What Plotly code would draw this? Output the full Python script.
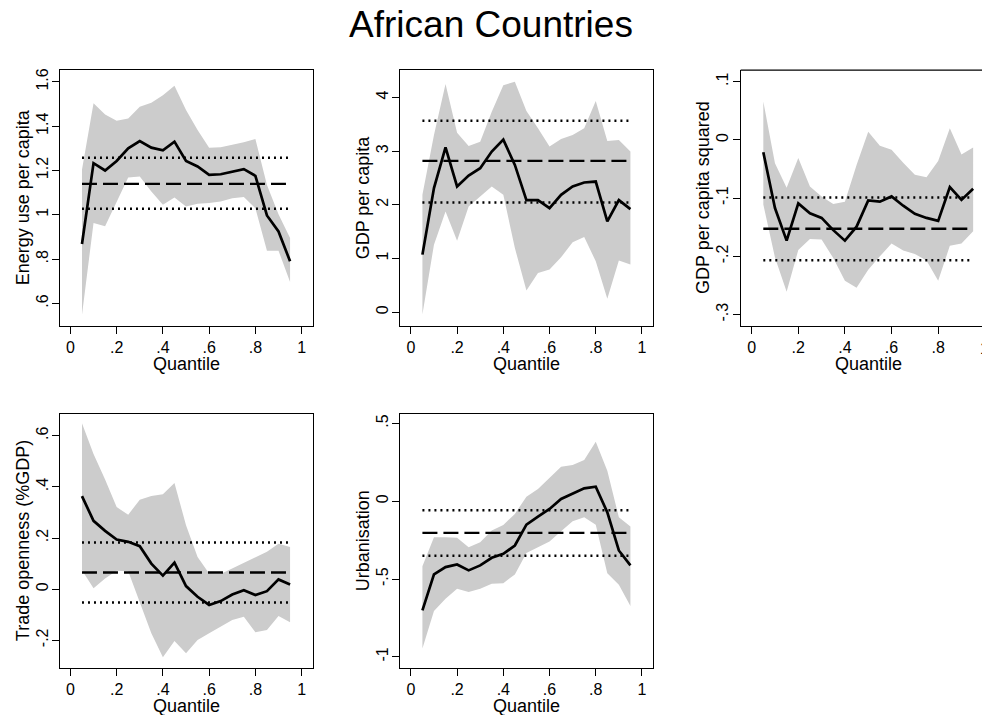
import plotly.graph_objects as go

# ---------------- data ----------------
quantiles = [0.05, 0.10, 0.15, 0.20, 0.25, 0.30, 0.35, 0.40, 0.45, 0.50,
             0.55, 0.60, 0.65, 0.70, 0.75, 0.80, 0.85, 0.90, 0.95]

energy_coef = [0.868, 1.233, 1.200, 1.243, 1.300, 1.333, 1.303, 1.291, 1.330, 1.243,
               1.218, 1.180, 1.183, 1.195, 1.206, 1.176, 0.997, 0.925, 0.790]
energy_hi = [1.203, 1.503, 1.453, 1.425, 1.435, 1.488, 1.506, 1.540, 1.582, 1.473,
             1.383, 1.303, 1.305, 1.315, 1.327, 1.342, 1.135, 1.003, 0.895]
energy_lo = [0.548, 0.963, 0.948, 1.060, 1.168, 1.173, 1.105, 1.045, 1.078, 1.038,
             1.050, 1.053, 1.060, 1.075, 1.080, 1.030, 0.838, 0.838, 0.697]
energy_ols = [1.140, 1.027, 1.258]  # coef, lower, upper

gdp_coef = [1.071, 2.310, 3.071, 2.341, 2.545, 2.681, 2.991, 3.214, 2.743, 2.087,
            2.087, 1.938, 2.186, 2.341, 2.415, 2.433, 1.690, 2.087, 1.920]
gdp_hi = [2.186, 3.300, 4.248, 3.344, 3.096, 3.176, 3.734, 4.229, 4.291, 3.746,
          3.424, 3.084, 3.226, 3.300, 3.424, 3.932, 3.189, 3.207, 2.991]
gdp_lo = [-0.043, 1.257, 1.876, 1.331, 1.969, 2.155, 2.341, 2.186, 1.195, 0.402,
          0.731, 0.793, 1.022, 1.300, 1.399, 0.947, 0.248, 0.960, 0.885]
gdp_ols = [2.817, 2.043, 3.567]

gdp2_coef = [-0.021, -0.117, -0.173, -0.109, -0.126, -0.134, -0.155, -0.173, -0.149, -0.104,
             -0.106, -0.097, -0.113, -0.127, -0.134, -0.139, -0.081, -0.103, -0.084]
gdp2_hi = [0.066, -0.040, -0.082, -0.031, -0.080, -0.097, -0.110, -0.106, -0.043, 0.014,
           -0.010, -0.017, -0.039, -0.060, -0.064, -0.036, 0.020, -0.025, -0.013]
gdp2_lo = [-0.111, -0.202, -0.261, -0.189, -0.170, -0.171, -0.203, -0.242, -0.254, -0.223,
           -0.200, -0.178, -0.190, -0.196, -0.207, -0.242, -0.182, -0.178, -0.157]
gdp2_ols = [-0.1526, -0.2069, -0.0989]

trade_coef = [0.364, 0.267, 0.228, 0.194, 0.185, 0.168, 0.100, 0.053, 0.104, 0.012,
              -0.030, -0.062, -0.047, -0.021, -0.004, -0.023, -0.008, 0.038, 0.018]
trade_hi = [0.649, 0.529, 0.429, 0.321, 0.291, 0.350, 0.364, 0.371, 0.415, 0.250,
            0.126, 0.061, 0.059, 0.081, 0.103, 0.126, 0.146, 0.178, 0.165]
trade_lo = [0.074, 0.003, 0.042, 0.072, 0.070, -0.049, -0.173, -0.267, -0.203, -0.251,
            -0.199, -0.173, -0.147, -0.121, -0.108, -0.169, -0.160, -0.105, -0.130]
trade_ols = [0.065, -0.052, 0.182]

urban_coef = [-0.701, -0.470, -0.423, -0.406, -0.444, -0.412, -0.363, -0.338, -0.284, -0.150,
              -0.098, -0.049, 0.015, 0.047, 0.083, 0.094, -0.071, -0.316, -0.412]
urban_hi = [-0.417, -0.231, -0.231, -0.235, -0.295, -0.263, -0.188, -0.152, -0.081, 0.030,
            0.079, 0.150, 0.222, 0.233, 0.265, 0.382, 0.197, -0.103, -0.162]
urban_lo = [-0.947, -0.705, -0.626, -0.562, -0.583, -0.562, -0.530, -0.526, -0.470, -0.333,
            -0.295, -0.259, -0.192, -0.128, -0.103, -0.150, -0.462, -0.536, -0.673]
urban_ols = [-0.203, -0.350, -0.058]

titles = ["Energy use per capita", "GDP per capita", "GDP per capita squared",
          "Trade openness (%GDP)", "Urbanisation"]
x_title = "Quantile"
x_ticks = [0, 0.2, 0.4, 0.6, 0.8, 1]
x_ticklabels = ["0", ".2", ".4", ".6", ".8", "1"]
y_ticks = [[0.6, 0.8, 1.0, 1.2, 1.4, 1.6], [0, 1, 2, 3, 4], [-0.3, -0.2, -0.1, 0, 0.1],
           [-0.2, 0, 0.2, 0.4, 0.6], [-1, -0.5, 0, 0.5]]
y_ticklabels = [[".6", ".8", "1", "1.2", "1.4", "1.6"], ["0", "1", "2", "3", "4"],
                ["-.3", "-.2", "-.1", "0", ".1"], ["-.2", "0", ".2", ".4", ".6"],
                ["-1", "-.5", "0", ".5"]]

series = [
    (energy_coef, energy_lo, energy_hi, energy_ols),
    (gdp_coef, gdp_lo, gdp_hi, gdp_ols),
    (gdp2_coef, gdp2_lo, gdp2_hi, gdp2_ols),
    (trade_coef, trade_lo, trade_hi, trade_ols),
    (urban_coef, urban_lo, urban_hi, urban_ols),
]

# ---------------- layout geometry ----------------
W, H = 982, 715
def px_x(a, b):
    return [a / W, b / W]
def px_y(top, bottom):
    return [1 - bottom / H, 1 - top / H]

# (left, right, top, bottom) of each plot box in pixels
boxes = [
    (60, 312.5, 68.3, 324.5),
    (400, 653.3, 68.3, 324.5),
    (740.7, 982, 68.3, 324.5),
    (60, 312.5, 412.7, 667.7),
    (400, 653.3, 412.7, 667.7),
]
x_ranges = [[-0.045, 1.047], [-0.047, 1.049], [-0.047, 0.988], [-0.045, 1.047], [-0.047, 1.049]]
y_ranges = [[0.500, 1.653], [-0.251, 4.509], [-0.319, 0.120], [-0.308, 0.687], [-1.0705, 0.564]]

FONT = "Liberation Sans, Arial, Helvetica, sans-serif"
BAND = "#cccccc"
TICK_SIZE = 16
TITLE_SIZE = 18

fig = go.Figure()
layout = dict(
    width=W, height=H,
    margin=dict(l=0, r=0, t=0, b=0),
    paper_bgcolor="white", plot_bgcolor="white",
    showlegend=False,
    font=dict(family=FONT, size=TITLE_SIZE, color="black"),
    title=dict(text="African Countries", x=0.5, xanchor="center",
               y=1 - 24.5 / H, yanchor="middle", yref="container",
               font=dict(family=FONT, size=37, color="black")),
)

shapes = []
annotations = []
for i, (coef, lo, hi, ols) in enumerate(series):
    n = i + 1
    xa = "x" if n == 1 else f"x{n}"
    ya = "y" if n == 1 else f"y{n}"
    L, R, T, B = boxes[i]
    # confidence band
    fig.add_trace(go.Scatter(x=quantiles, y=lo, mode="lines", line=dict(width=0, color=BAND),
                             xaxis=xa, yaxis=ya, hoverinfo="skip"))
    fig.add_trace(go.Scatter(x=quantiles, y=hi, mode="lines", line=dict(width=0, color=BAND),
                             fill="tonexty", fillcolor=BAND, xaxis=xa, yaxis=ya, hoverinfo="skip"))
    xe = [quantiles[0], quantiles[-1]]
    # OLS confidence bounds (dotted)
    for v in (ols[1], ols[2]):
        fig.add_trace(go.Scatter(x=xe, y=[v, v], mode="lines",
                                 line=dict(color="black", width=2.5, dash="2px,4px"),
                                 xaxis=xa, yaxis=ya))
    # OLS coefficient (dashed)
    fig.add_trace(go.Scatter(x=xe, y=[ols[0], ols[0]], mode="lines",
                             line=dict(color="black", width=2.3, dash="15px,6px"),
                             xaxis=xa, yaxis=ya))
    # quantile coefficients
    fig.add_trace(go.Scatter(x=quantiles, y=coef, mode="lines",
                             line=dict(color="black", width=2.7),
                             xaxis=xa, yaxis=ya))

    xkey = "xaxis" if n == 1 else f"xaxis{n}"
    ykey = "yaxis" if n == 1 else f"yaxis{n}"
    mirror = n != 3
    layout[xkey] = dict(
        domain=px_x(L, R), range=x_ranges[i], anchor=ya,
        tickvals=x_ticks, ticktext=x_ticklabels, ticks="outside", ticklen=7,
        tickwidth=1.2, tickcolor="black", showline=True, linecolor="black",
        linewidth=1.2, mirror=mirror, showgrid=False, zeroline=False,
        ticklabelstandoff=0, tickfont=dict(size=TICK_SIZE),
    )
    layout[ykey] = dict(
        domain=px_y(T, B), range=y_ranges[i], anchor=xa,
        tickvals=y_ticks[i], ticktext=y_ticklabels[i], ticks="outside", ticklen=7,
        tickwidth=1.2, tickcolor="black", showline=True, linecolor="black",
        linewidth=1.2, mirror=mirror, showgrid=False, zeroline=False,
        tickangle=-90, ticklabelstandoff=-2, tickfont=dict(size=TICK_SIZE),
    )
    # axis titles
    annotations.append(dict(text=x_title, xref="paper", yref="paper",
                            x=(L + 10.5 + (R - L - 21) / 2) / W if n != 3 else (L + 11 + 116.5) / W,
                            y=1 - (B + 38.5) / H, xanchor="center", yanchor="middle",
                            showarrow=False, font=dict(size=TITLE_SIZE, family=FONT, color="black")))
    annotations.append(dict(text=titles[i], xref="paper", yref="paper",
                            x=(L - 37.5) / W, y=1 - ((T + B) / 2) / H,
                            xanchor="center", yanchor="middle", textangle=-90,
                            showarrow=False, font=dict(size=TITLE_SIZE, family=FONT, color="black")))
    if n == 3:
        # top border of the clipped third panel
        shapes.append(dict(type="line", xref="x3 domain", yref="y3 domain",
                           x0=0, x1=1, y0=1, y1=1, line=dict(color="black", width=1.2)))

# the "1" tick label of panel 3 falls at the image edge and is cut off
annotations.append(dict(text="1", xref="paper", yref="paper", x=984.7 / W,
                        y=1 - 347 / H, xanchor="center", yanchor="middle",
                        showarrow=False, font=dict(size=TICK_SIZE, family=FONT, color="black")))

layout["shapes"] = shapes
layout["annotations"] = annotations
fig.update_layout(**layout)
fig.write_html("out.html")
